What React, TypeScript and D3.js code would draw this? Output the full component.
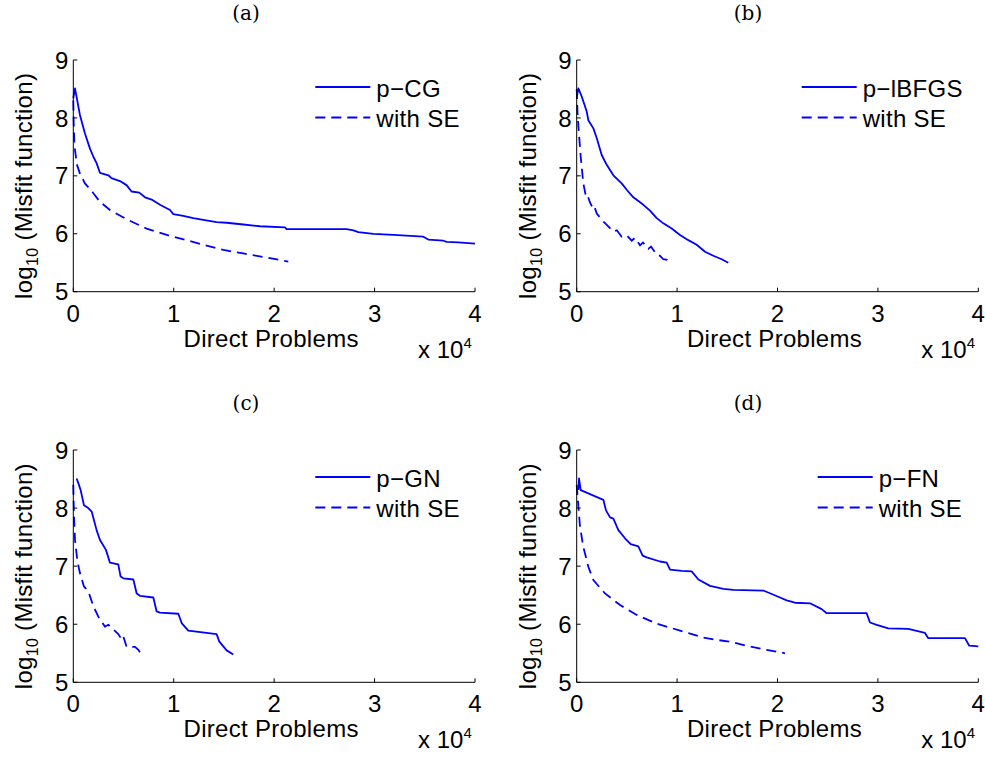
import React from "react";
import * as d3 from "d3";

// ---------- data (x in units of 1e4 direct problems, y = log10 misfit) ----------
const xTicks = [0, 1, 2, 3, 4];
const yTicks = [5, 6, 7, 8, 9];
const titles = ["(a)", "(b)", "(c)", "(d)"];
const methodNames = ["p\u2212CG", "p\u2212lBFGS", "p\u2212GN", "p\u2212FN"];
const seName = "with SE";

const pCG: [number, number][] = [
  [0, 8.34], [0.017, 8.51], [0.066, 8.05], [0.116, 7.73], [0.166, 7.47], [0.2, 7.33],
  [0.232, 7.22], [0.266, 7.05], [0.349, 7.01], [0.38, 6.96], [0.465, 6.91], [0.53, 6.84],
  [0.58, 6.73], [0.657, 6.71], [0.714, 6.63], [0.78, 6.59], [0.863, 6.5], [0.963, 6.41],
  [0.996, 6.34], [1.095, 6.31], [1.195, 6.27], [1.295, 6.24], [1.427, 6.2], [1.527, 6.19],
  [1.693, 6.16], [1.859, 6.13], [2.108, 6.11], [2.124, 6.08], [2.722, 6.08], [2.789, 6.06],
  [2.838, 6.03], [2.988, 6.0], [3.187, 5.98], [3.485, 5.95], [3.535, 5.9], [3.685, 5.88],
  [3.718, 5.86], [3.834, 5.85], [4.0, 5.83],
];
const seCG: [number, number][] = [
  [0, 8.3], [0.004, 7.9], [0.01, 7.6], [0.017, 7.45], [0.035, 7.2], [0.066, 7.04],
  [0.116, 6.87], [0.2, 6.7], [0.266, 6.55], [0.365, 6.41], [0.531, 6.25], [0.73, 6.09],
  [0.93, 5.98], [1.129, 5.89], [1.295, 5.81], [1.494, 5.72], [1.693, 5.66], [1.925, 5.59],
  [2.141, 5.52],
];
const pLBFGS: [number, number][] = [
  [0.0, 8.35], [0.017, 8.51], [0.05, 8.37], [0.1, 8.11], [0.116, 7.96], [0.166, 7.82],
  [0.2, 7.65], [0.249, 7.36], [0.299, 7.19], [0.365, 7.01], [0.448, 6.87], [0.498, 6.76],
  [0.564, 6.63], [0.664, 6.5], [0.73, 6.4], [0.797, 6.27], [0.863, 6.18], [0.946, 6.09],
  [1.029, 5.98], [1.112, 5.89], [1.195, 5.81], [1.278, 5.69], [1.361, 5.62], [1.444, 5.56],
  [1.51, 5.5],
];
const seLBFGS: [number, number][] = [
  [0, 8.5], [0.008, 8.1], [0.017, 7.85], [0.04, 7.33], [0.066, 6.87], [0.09, 6.66],
  [0.106, 6.68], [0.13, 6.55], [0.166, 6.42], [0.18, 6.45], [0.2, 6.35], [0.266, 6.21],
  [0.29, 6.17], [0.365, 6.04], [0.4, 6.06], [0.448, 5.95], [0.5, 5.97], [0.548, 5.88],
  [0.58, 5.93], [0.631, 5.8], [0.66, 5.85], [0.714, 5.74], [0.74, 5.78], [0.797, 5.64],
  [0.83, 5.62], [0.863, 5.56], [0.9, 5.55], [0.94, 5.49],
];
const pGN: [number, number][] = [
  [0.033, 8.51], [0.05, 8.43], [0.073, 8.31], [0.106, 8.05], [0.149, 8.0], [0.183, 7.94],
  [0.232, 7.62], [0.266, 7.45], [0.325, 7.28], [0.365, 7.06], [0.448, 7.03], [0.471, 6.82],
  [0.498, 6.79], [0.598, 6.77], [0.631, 6.53], [0.664, 6.49], [0.797, 6.46], [0.83, 6.22],
  [0.863, 6.2], [1.046, 6.18], [1.079, 6.02], [1.145, 5.89], [1.427, 5.83], [1.454, 5.7],
  [1.527, 5.55], [1.593, 5.48],
];
const seGN: [number, number][] = [
  [0, 8.4], [0.006, 7.9], [0.017, 7.45], [0.04, 7.1], [0.066, 6.88], [0.106, 6.65],
  [0.149, 6.57], [0.2, 6.31], [0.249, 6.13], [0.315, 5.96], [0.349, 5.99], [0.448, 5.83],
  [0.481, 5.74], [0.498, 5.79], [0.531, 5.61], [0.614, 5.61], [0.648, 5.56], [0.681, 5.47],
];
const pFN: [number, number][] = [
  [0.017, 8.31], [0.023, 8.51], [0.04, 8.31], [0.266, 8.14], [0.292, 7.96], [0.332, 7.84],
  [0.365, 7.82], [0.415, 7.62], [0.481, 7.48], [0.538, 7.38], [0.614, 7.34], [0.657, 7.18],
  [0.697, 7.15], [0.83, 7.08], [0.896, 7.06], [0.93, 6.94], [1.046, 6.92], [1.145, 6.91],
  [1.212, 6.77], [1.328, 6.66], [1.461, 6.61], [1.561, 6.59], [1.859, 6.58], [1.942, 6.52],
  [2.025, 6.46], [2.091, 6.41], [2.174, 6.37], [2.324, 6.36], [2.44, 6.26], [2.49, 6.19],
  [2.888, 6.19], [2.921, 6.03], [2.988, 5.99], [3.104, 5.93], [3.303, 5.92], [3.469, 5.85],
  [3.502, 5.76], [3.867, 5.76], [3.91, 5.63], [4.0, 5.62],
];
const seFN: [number, number][] = [
  [0, 8.4], [0.017, 8.02], [0.033, 7.68], [0.066, 7.33], [0.116, 6.99], [0.166, 6.76],
  [0.282, 6.53], [0.432, 6.33], [0.598, 6.16], [0.797, 6.01], [1.029, 5.89], [1.129, 5.84],
  [1.261, 5.77], [1.394, 5.73], [1.527, 5.7], [1.693, 5.63], [1.892, 5.56], [2.075, 5.5],
];

const solidSeries = [pCG, pLBFGS, pGN, pFN];
const dashedSeries = [seCG, seLBFGS, seGN, seFN];

// ---------- layout ----------
const W = 985;
const H = 758;
const colX: [number, number][] = [
  [73.3, 475],
  [576.7, 978.3],
];
const rowY: [number, number][] = [
  [60, 291.7],
  [450, 682.3],
];
const titleX = [246, 748];
const legendLineStart = [242, 225, 242, 241]; // offset from axes left
const BLUE = "#0000ff";
const SANS = "'Liberation Sans', Arial, Helvetica, sans-serif";
const SERIF = "'DejaVu Serif', 'Liberation Serif', serif";
const FS = 24;
const LS = 0.3;

function Panel({ i }: { i: number }) {
  const col = i % 2;
  const row = Math.floor(i / 2);
  const [x0, x1] = colX[col];
  const [y0, y1] = rowY[row];
  const x = d3.scaleLinear().domain([0, 4]).range([x0, x1]);
  const y = d3.scaleLinear().domain([5, 9]).range([y1, y0]);
  const line = d3
    .line<[number, number]>()
    .x((d) => x(d[0]))
    .y((d) => y(d[1]));
  const lx = x0 + legendLineStart[i];
  const ly1 = y0 + 27;
  const ly2 = y0 + 57.5;
  const cy = (y0 + y1) / 2;
  return (
    <g>
      <text x={titleX[col]} y={y0 - 40} fontFamily={SERIF} fontSize={20} fontWeight={300} textAnchor="middle">
        {titles[i]}
      </text>
      <path d={line(dashedSeries[i]) || ""} fill="none" stroke={BLUE} strokeWidth={1.8} strokeDasharray="10,6" />
      <path d={line(solidSeries[i]) || ""} fill="none" stroke={BLUE} strokeWidth={1.8} strokeLinejoin="round" />
      {/* axes */}
      <line x1={x0} x2={x0} y1={y0} y2={y1} stroke="#000" strokeWidth={1} />
      <line x1={x0} x2={x1} y1={y1} y2={y1} stroke="#000" strokeWidth={1} />
      {yTicks.map((t) => (
        <g key={"y" + t}>
          <line x1={x0} x2={x0 + 4} y1={y(t)} y2={y(t)} stroke="#000" />
          <text x={x0 - 5} y={y(t) + 8.6} fontFamily={SANS} fontSize={FS} textAnchor="end">
            {t}
          </text>
        </g>
      ))}
      {xTicks.map((t) => (
        <g key={"x" + t}>
          <line x1={x(t)} x2={x(t)} y1={y1} y2={y1 - 4} stroke="#000" />
          <text x={x(t)} y={y1 + 30} fontFamily={SANS} fontSize={FS} textAnchor="middle">
            {t}
          </text>
        </g>
      ))}
      <text x={(x0 + x1) / 2 - 3} y={y1 + 55} fontFamily={SANS} fontSize={FS} letterSpacing={LS} textAnchor="middle">
        Direct Problems
      </text>
      <text x={x1 - 57} y={y1 + 66} fontFamily={SANS} fontSize={FS}>
        x 10
        <tspan dy={-10} fontSize={15}>4</tspan>
      </text>
      <text
        transform={`translate(${x0 - 41},${cy + 10}) rotate(-90)`}
        fontFamily={SANS}
        fontSize={FS}
        letterSpacing={LS}
        textAnchor="middle"
      >
        log
        <tspan dy={6} fontSize={16}>10</tspan>
        <tspan dy={-6}> (Misfit function)</tspan>
      </text>
      {/* legend */}
      <line x1={lx} x2={lx + 55} y1={ly1} y2={ly1} stroke={BLUE} strokeWidth={1.8} />
      <line x1={lx} x2={lx + 55} y1={ly2} y2={ly2} stroke={BLUE} strokeWidth={1.8} strokeDasharray="10,6" />
      <text x={lx + 61} y={ly1 + 10} fontFamily={SANS} fontSize={FS} letterSpacing={LS}>
        {methodNames[i]}
      </text>
      <text x={lx + 61} y={ly2 + 9} fontFamily={SANS} fontSize={FS} letterSpacing={LS}>
        {seName}
      </text>
    </g>
  );
}

export default function App() {
  return (
    <svg width={W} height={H} style={{ position: "absolute", left: 0, top: 0, background: "#fff" }}>
      <rect width={W} height={H} fill="#fff" />
      {[0, 1, 2, 3].map((i) => (
        <Panel key={i} i={i} />
      ))}
    </svg>
  );
}
